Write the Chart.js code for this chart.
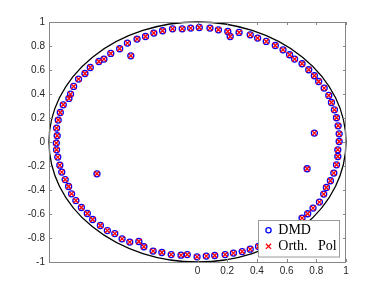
<!DOCTYPE html>
<html>
<head>
<meta charset="utf-8">
<script src="https://cdn.jsdelivr.net/npm/chart.js@4.4.1/dist/chart.umd.min.js"></script>
<style>
  html, body { margin: 0; padding: 0; background: #fff; }
  canvas { display: block; }
</style>
</head>
<body>
<canvas id="myChart" width="382" height="295"></canvas>
<script>
const dmdRe = [
  -0.472, -0.524, -0.584, -0.630, -0.664, -0.722, -0.758, -0.801, -0.834, -0.855, -0.866, -0.904, -0.924, -0.938, -0.949, -0.945, -0.951,
  -0.949, -0.941, -0.927, -0.914, -0.891, -0.868, -0.848, -0.819, -0.782, -0.742, -0.706, -0.654, -0.607, -0.557, -0.508, -0.456,
  -0.395, -0.361, -0.299, -0.240, -0.177, -0.111, -0.069, -0.003, 0.059, 0.116, 0.186, 0.242, 0.301, 0.355, 0.411,
  0.704, 0.742, 0.778, 0.821, 0.850, 0.868, 0.895, 0.918, 0.936, 0.945, 0.945,
  0.954, 0.954, 0.947, 0.936, 0.922, 0.902, 0.884, 0.853, 0.816, 0.787, 0.749, 0.704, 0.654, 0.620, 0.576, 0.524, 0.463, 0.405, 0.355,
  0.280, 0.220, 0.204, 0.141, 0.084, 0.012, -0.046, -0.103, -0.168, -0.235, -0.294, -0.350, -0.407,
  -0.449, -0.677, 0.738, 0.787
];
const dmdIm = [
  0.824, 0.777, 0.738, 0.691, 0.671, 0.621, 0.571, 0.524, 0.463, 0.399, 0.363, 0.310, 0.246, 0.183, 0.116, 0.052, -0.009,
  -0.065, -0.126, -0.193, -0.251, -0.313, -0.371, -0.432, -0.488, -0.546, -0.596, -0.646, -0.696, -0.738, -0.763, -0.807, -0.834,
  -0.829, -0.873, -0.909, -0.921, -0.938, -0.943, -0.938, -0.957, -0.951, -0.946, -0.938, -0.926, -0.913, -0.893, -0.871,
  -0.634, -0.598, -0.551, -0.501, -0.434, -0.379, -0.323, -0.259, -0.190, -0.121, -0.065,
  0.004, 0.068, 0.135, 0.202, 0.268, 0.329, 0.388, 0.449, 0.504, 0.552, 0.602, 0.652, 0.691, 0.727, 0.768, 0.804, 0.838, 0.866, 0.893,
  0.913, 0.879, 0.921, 0.935, 0.949, 0.954, 0.949, 0.943, 0.943, 0.927, 0.908, 0.879, 0.858,
  0.718, -0.265, -0.223, 0.074
];
// the orthogonal polynomial eigenvalues sit on top of the DMD ones
const polRe = dmdRe.slice();
const polIm = dmdIm.slice();

const xTicks = [0, 0.2, 0.4, 0.6, 0.8, 1];
const yTicks = [-1, -0.8, -0.6, -0.4, -0.2, 0, 0.2, 0.4, 0.6, 0.8, 1];
const legendLabels = ['DMD', 'Orth.   Pol'];

const toPoints = (re, im) => re.map((v, i) => ({ x: v, y: im[i] }));

// unit circle, drawn under the points
const unitCircle = {
  id: 'unitCircle',
  beforeDatasetsDraw(chart) {
    const { ctx, scales: { x, y } } = chart;
    const cx = x.getPixelForValue(0), cy = y.getPixelForValue(0);
    const rx = x.getPixelForValue(1) - cx, ry = cy - y.getPixelForValue(1);
    ctx.save();
    ctx.strokeStyle = '#000';
    ctx.lineWidth = 1.3;
    ctx.beginPath();
    ctx.ellipse(cx, cy, rx, ry, 0, 0, Math.PI * 2);
    ctx.stroke();
    ctx.restore();
  }
};

// matlab-like box with inward ticks
const boxAxes = {
  id: 'boxAxes',
  afterDatasetsDraw(chart) {
    const { ctx, chartArea: a, scales: { x, y } } = chart;
    ctx.save();
    ctx.strokeStyle = '#858585';
    ctx.lineWidth = 1;
    ctx.strokeRect(a.left + 0.5, a.top + 0.5, a.right - a.left - 1, a.bottom - a.top);
    ctx.beginPath();
    x.ticks.forEach(t => {
      const px = Math.round(x.getPixelForValue(t.value)) + 0.5;
      ctx.moveTo(px, a.top); ctx.lineTo(px, a.top + 3);
      ctx.moveTo(px, a.bottom); ctx.lineTo(px, a.bottom - 3);
    });
    y.ticks.forEach(t => {
      const py = Math.round(y.getPixelForValue(t.value)) + 0.5;
      ctx.moveTo(a.left, py); ctx.lineTo(a.left + 3, py);
      ctx.moveTo(a.right, py); ctx.lineTo(a.right - 3, py);
    });
    ctx.stroke();
    ctx.restore();
  }
};

// legend box in the lower right corner
const boxLegend = {
  id: 'boxLegend',
  afterDraw(chart) {
    const { ctx, chartArea: a } = chart;
    const x0 = a.right - 87.5, y0 = a.bottom - 41.5, w = 81, h = 36.5;
    ctx.save();
    ctx.fillStyle = '#fff';
    ctx.fillRect(x0, y0, w, h);
    ctx.strokeStyle = '#9a9a9a';
    ctx.lineWidth = 1;
    ctx.strokeRect(x0, y0, w, h);
    const mx = x0 + 10;
    const rows = [y0 + 9.8, y0 + 25.8];
    // circle marker
    ctx.strokeStyle = '#0000ff';
    ctx.lineWidth = 1.3;
    ctx.beginPath();
    ctx.arc(mx, rows[0], 2.6, 0, Math.PI * 2);
    ctx.stroke();
    // cross marker
    ctx.strokeStyle = '#ff0000';
    ctx.beginPath();
    ctx.moveTo(mx - 2.6, rows[1] - 2.6); ctx.lineTo(mx + 2.6, rows[1] + 2.6);
    ctx.moveTo(mx - 2.6, rows[1] + 2.6); ctx.lineTo(mx + 2.6, rows[1] - 2.6);
    ctx.stroke();
    ctx.fillStyle = '#000';
    ctx.font = '14px "Liberation Serif", "DejaVu Serif", serif';
    ctx.textBaseline = 'middle';
    ctx.fillText(legendLabels[0], x0 + 19.8, rows[0] + 0.5);
    ctx.fillText(legendLabels[1], x0 + 19.8, rows[1] + 0.5);
    ctx.restore();
  }
};

const ctx = document.getElementById('myChart').getContext('2d');

new Chart(ctx, {
  type: 'scatter',
  data: {
    datasets: [
      {
        label: legendLabels[0],
        data: toPoints(dmdRe, dmdIm),
        pointStyle: 'circle',
        pointRadius: 3,
        pointBorderWidth: 1.3,
        pointBorderColor: '#0000ff',
        pointBackgroundColor: 'rgba(0,0,0,0)',
        order: 2
      },
      {
        label: legendLabels[1],
        data: toPoints(polRe, polIm),
        pointStyle: 'crossRot',
        pointRadius: 3.5,
        pointBorderWidth: 1.3,
        pointBorderColor: '#ff0000',
        order: 1
      }
    ]
  },
  options: {
    responsive: false,
    animation: false,
    devicePixelRatio: 1,
    layout: { padding: { top: 22, right: 36, bottom: 0, left: 0 } },
    plugins: {
      legend: { display: false },
      tooltip: { enabled: false }
    },
    scales: {
      x: {
        type: 'linear',
        min: -1,
        max: 1,
        afterBuildTicks: s => { s.ticks = xTicks.map(v => ({ value: v })); },
        afterFit: s => { s.height = 33; },
        grid: { display: false, drawTicks: false },
        border: { display: false },
        ticks: {
          padding: 3,
          maxRotation: 0,
          autoSkip: false,
          color: '#262626',
          font: { family: '"Liberation Sans", Arial, sans-serif', size: 10 },
          callback: v => String(v)
        }
      },
      y: {
        type: 'linear',
        min: -1,
        max: 1,
        afterBuildTicks: s => { s.ticks = yTicks.map(v => ({ value: v })); },
        afterFit: s => { s.width = 49; },
        grid: { display: false, drawTicks: false },
        border: { display: false },
        ticks: {
          padding: 4,
          autoSkip: false,
          color: '#262626',
          font: { family: '"Liberation Sans", Arial, sans-serif', size: 10 },
          callback: v => String(v)
        }
      }
    }
  },
  plugins: [unitCircle, boxAxes, boxLegend]
});
</script>
</body>
</html>
